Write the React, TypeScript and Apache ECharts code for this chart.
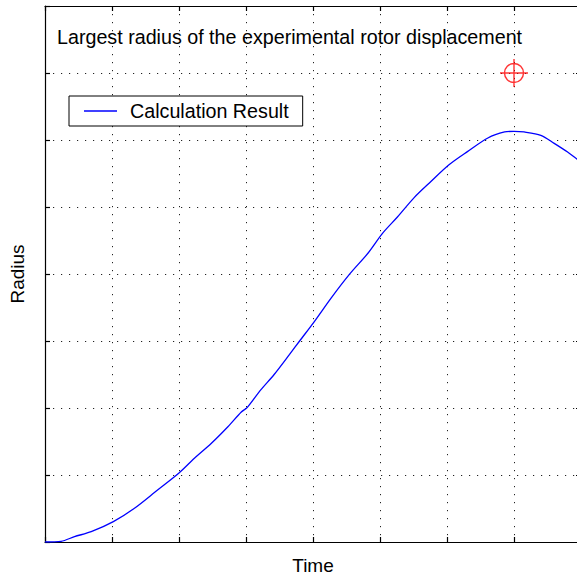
import React, { useEffect, useRef } from "react";
import * as echarts from "echarts";

const timeValues = [0, 0.24, 0.44, 0.69, 1.02, 1.33, 1.68, 2.0, 2.23, 2.48, 2.73, 2.93, 3.02, 3.22, 3.42, 3.65, 3.8, 4.02, 4.27, 4.54, 4.82, 5.04, 5.26, 5.51, 5.76, 6.03, 6.31, 6.61, 6.86, 7.0, 7.15, 7.4, 7.6, 7.8, 7.96, 8.0];
const radiusValues = [0, 0.01, 0.08, 0.154, 0.304, 0.5, 0.776, 1.03, 1.25, 1.47, 1.72, 1.94, 2.01, 2.27, 2.5, 2.8, 3.0, 3.29, 3.64, 3.99, 4.31, 4.61, 4.85, 5.14, 5.38, 5.63, 5.83, 6.03, 6.12, 6.13, 6.12, 6.07, 5.95, 5.82, 5.7, 5.67];
const experimentalPoint = [7, 7];
const seriesName = "Calculation Result";
const titleText = "Largest radius of the experimental rotor displacement";
const xName = "Time";
const yName = "Radius";

const FONT = "Liberation Sans, Arial, Helvetica, sans-serif";

export default function App() {
  const ref = useRef<HTMLDivElement>(null);
  useEffect(() => {
    if (!ref.current) return;
    const chart = echarts.init(ref.current, null, { renderer: "svg" });
    const dotted = { color: "#222", width: 1, type: [1.2, 6.8] as any };
    const axisCommon = {
      type: "value" as const,
      min: 0,
      max: 8,
      interval: 1,
      axisLabel: { show: false },
      axisLine: { show: true, onZero: false, lineStyle: { color: "#000", width: 1.2 } },
      axisTick: { show: true, inside: true, length: 5, lineStyle: { color: "#000", width: 1.2 } },
    };
    chart.setOption({
      animation: false,
      backgroundColor: "#fff",
      title: {
        text: titleText,
        left: 57,
        top: 27,
        padding: 0,
        textStyle: { fontFamily: FONT, fontSize: 19.7, fontWeight: "normal", color: "#000" },
      },
      legend: {
        data: [{ name: seriesName, icon: "path://M0 0 H33 V1.3 H0 Z" }],
        left: 69,
        top: 96,
        itemWidth: 33,
        itemHeight: 14,
        padding: [5, 14, 5, 15],
        borderColor: "#000",
        borderWidth: 1,
        borderRadius: 0,
        backgroundColor: "#fff",
        itemStyle: { color: "#0000ff", borderWidth: 0 },
        textStyle: { fontFamily: FONT, fontSize: 19.7, color: "#000", padding: [0, 0, 0, 8] },
      },
      grid: { left: 45, top: 6, width: 536, height: 536, containLabel: false, outerBoundsMode: "none" },
      xAxis: [
        {
          ...axisCommon,
          position: "bottom",
          name: xName,
          nameLocation: "middle",
          nameGap: 14,
          nameTextStyle: { fontFamily: FONT, fontSize: 19, color: "#000" },
          splitLine: { show: true, lineStyle: dotted },
        },
        {
          ...axisCommon,
          position: "top",
          splitLine: { show: false },
        },
      ],
      yAxis: [
        {
          ...axisCommon,
          position: "left",
          name: yName,
          nameLocation: "middle",
          nameGap: 18,
          nameTextStyle: { fontFamily: FONT, fontSize: 19, color: "#000" },
          splitLine: { show: true, lineStyle: dotted },
        },
        {
          ...axisCommon,
          position: "right",
          splitLine: { show: false },
        },
      ],
      series: [
        {
          name: seriesName,
          type: "line",
          xAxisIndex: 0,
          yAxisIndex: 0,
          symbol: "none",
          smooth: 0.3,
          lineStyle: { color: "#0000ff", width: 1.3 },
          itemStyle: { color: "#0000ff" },
          data: timeValues.map((t, i) => [t, radiusValues[i]]),
        },
        {
          name: "Experimental",
          type: "scatter",
          xAxisIndex: 0,
          yAxisIndex: 0,
          symbol: "path://M14 0 L14 28 M0 14 L28 14 M23.5 14 A9.5 9.5 0 1 1 4.5 14 A9.5 9.5 0 1 1 23.5 14 Z",
          symbolSize: 28,
          symbolKeepAspect: true,
          itemStyle: { color: "none", borderColor: "#ff0000", borderWidth: 1.4 },
          data: [experimentalPoint],
        },
      ],
    });
    return () => chart.dispose();
  }, []);
  return (
    <div style={{ position: "fixed", left: 0, top: 0, width: 577, height: 577, overflow: "hidden", background: "#fff" }}>
      <div ref={ref} style={{ position: "absolute", left: 0, top: 0, width: 600, height: 577 }} />
    </div>
  );
}
